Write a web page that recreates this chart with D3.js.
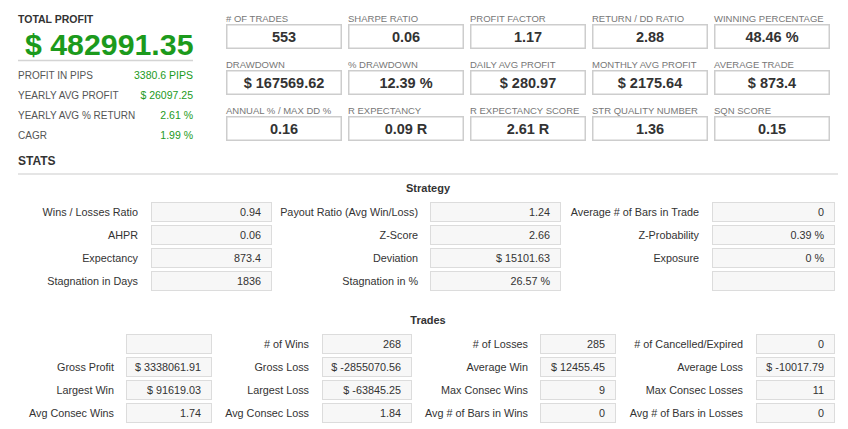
<!DOCTYPE html>
<html><head><meta charset="utf-8">
<script src="https://cdn.jsdelivr.net/npm/d3@7"></script>
<style>
html,body{margin:0;padding:0;background:#fff;}
svg{display:block;font-family:"Liberation Sans",Arial,sans-serif;}
</style></head>
<body>
<script>
// ---------- DATA ----------
const totalProfitLabel = "TOTAL PROFIT";
const totalProfitValue = "$ 482991.35";
const summaryLabels = ["PROFIT IN PIPS","YEARLY AVG PROFIT","YEARLY AVG % RETURN","CAGR"];
const summaryValues = ["3380.6 PIPS","$ 26097.25","2.61 %","1.99 %"];

const topLabels = ["# OF TRADES","SHARPE RATIO","PROFIT FACTOR","RETURN / DD RATIO","WINNING PERCENTAGE",
  "DRAWDOWN","% DRAWDOWN","DAILY AVG PROFIT","MONTHLY AVG PROFIT","AVERAGE TRADE",
  "ANNUAL % / MAX DD %","R EXPECTANCY","R EXPECTANCY SCORE","STR QUALITY NUMBER","SQN SCORE"];
const topValues = ["553","0.06","1.17","2.88","48.46 %",
  "$ 167569.62","12.39 %","$ 280.97","$ 2175.64","$ 873.4",
  "0.16","0.09 R","2.61 R","1.36","0.15"];

const sectionTitle = "STATS";
const strategyTitle = "Strategy";
const strategyLabels = ["Wins / Losses Ratio","Payout Ratio (Avg Win/Loss)","Average # of Bars in Trade",
  "AHPR","Z-Score","Z-Probability",
  "Expectancy","Deviation","Exposure",
  "Stagnation in Days","Stagnation in %",""];
const strategyValues = ["0.94","1.24","0",
  "0.06","2.66","0.39 %",
  "873.4","$ 15101.63","0 %",
  "1836","26.57 %",""];

const tradesTitle = "Trades";
const tradesLabels = ["","# of Wins","# of Losses","# of Cancelled/Expired",
  "Gross Profit","Gross Loss","Average Win","Average Loss",
  "Largest Win","Largest Loss","Max Consec Wins","Max Consec Losses",
  "Avg Consec Wins","Avg Consec Loss","Avg # of Bars in Wins","Avg # of Bars in Losses"];
const tradesValues = ["","268","285","0",
  "$ 3338061.91","$ -2855070.56","$ 12455.45","$ -10017.79",
  "$ 91619.03","$ -63845.25","9","11",
  "1.74","1.84","0","0"];

// ---------- DRAW ----------
const W = 848, H = 429;
const green = "#1c9a1c";
const svg = d3.select("body").append("svg").attr("width", W).attr("height", H);
svg.append("rect").attr("width", W).attr("height", H).attr("fill", "#fff");

// Left summary panel
svg.append("text").attr("x", 18).attr("y", 23).attr("font-size", 10.5).attr("font-weight", "bold")
  .attr("fill", "#333").text(totalProfitLabel);
svg.append("text").attr("x", 25).attr("y", 55).attr("font-size", 30.3).attr("font-weight", "bold")
  .attr("fill", green).text(totalProfitValue);
svg.append("line").attr("x1", 18).attr("x2", 193).attr("y1", 60.5).attr("y2", 60.5)
  .attr("stroke", "#d4d4d4").attr("stroke-width", 1.5);
const sumY = d3.scaleLinear().domain([0, 1]).range([79, 99]);
const sumG = svg.append("g").selectAll("g").data(summaryLabels).join("g");
sumG.append("text").attr("x", 18).attr("y", (d, i) => sumY(i)).attr("font-size", 10)
  .attr("fill", "#555").text(d => d);
sumG.append("text").attr("x", 193).attr("y", (d, i) => sumY(i)).attr("font-size", 10.5)
  .attr("text-anchor", "end").attr("fill", green).text((d, i) => summaryValues[i]);

// Top metric boxes
const topX = d3.scaleLinear().domain([0, 1]).range([226, 348]);
const topY = d3.scaleLinear().domain([0, 1]).range([24, 70]);
const boxW = 116, boxH = 25;
const topG = svg.append("g").selectAll("g").data(topLabels).join("g")
  .attr("transform", (d, i) => `translate(${topX(i % 5)},${topY(Math.floor(i / 5))})`);
topG.append("text").attr("x", 0).attr("y", -2).attr("font-size", 9.5).attr("fill", "#777").text(d => d);
topG.append("rect").attr("x", 0.75).attr("y", 0.75).attr("width", boxW - 1.5).attr("height", boxH - 1.5)
  .attr("fill", "#fff").attr("stroke", "#cdcdcd").attr("stroke-width", 1.5);
topG.append("text").attr("x", boxW / 2).attr("y", 18).attr("text-anchor", "middle")
  .attr("font-size", 14.5).attr("font-weight", "bold").attr("fill", "#333")
  .text((d, i) => topValues[i]);

// STATS header
svg.append("text").attr("x", 18).attr("y", 165).attr("font-size", 12).attr("font-weight", "bold")
  .attr("fill", "#333").text(sectionTitle);
svg.append("line").attr("x1", 18).attr("x2", 838).attr("y1", 174).attr("y2", 174)
  .attr("stroke", "#ddd").attr("stroke-width", 1.5);

// Generic table drawer
function drawTable(labels, values, cols, rowScale) {
  const n = cols.length;
  const g = svg.append("g").selectAll("g").data(labels).join("g");
  g.append("text")
    .attr("x", (d, i) => cols[i % n].label)
    .attr("y", (d, i) => rowScale(Math.floor(i / n)) + 14)
    .attr("text-anchor", "end").attr("font-size", 10.8).attr("fill", "#333").text(d => d);
  g.append("rect")
    .attr("x", (d, i) => cols[i % n].x0 + 0.5)
    .attr("y", (d, i) => rowScale(Math.floor(i / n)) + 0.5)
    .attr("width", (d, i) => cols[i % n].x1 - cols[i % n].x0 - 1)
    .attr("height", 19)
    .attr("fill", "#f7f7f7").attr("stroke", "#dcdcdc").attr("stroke-width", 1);
  g.append("text")
    .attr("x", (d, i) => cols[i % n].x1 - 11)
    .attr("y", (d, i) => rowScale(Math.floor(i / n)) + 14)
    .attr("text-anchor", "end").attr("font-size", 10.8).attr("fill", "#333")
    .text((d, i) => values[i]);
}

// Strategy
svg.append("text").attr("x", 428).attr("y", 192).attr("text-anchor", "middle").attr("font-size", 11)
  .attr("font-weight", "bold").attr("fill", "#333").text(strategyTitle);
drawTable(strategyLabels, strategyValues,
  [{label: 138, x0: 151, x1: 272}, {label: 418, x0: 430, x1: 561}, {label: 699, x0: 712, x1: 835}],
  d3.scaleLinear().domain([0, 1]).range([202, 225]));

// Trades
svg.append("text").attr("x", 428).attr("y", 324).attr("text-anchor", "middle").attr("font-size", 11)
  .attr("font-weight", "bold").attr("fill", "#333").text(tradesTitle);
drawTable(tradesLabels, tradesValues,
  [{label: 114, x0: 126, x1: 212}, {label: 309, x0: 322, x1: 412}, {label: 528, x0: 540, x1: 616}, {label: 743, x0: 756, x1: 835}],
  d3.scaleLinear().domain([0, 1]).range([334, 357]));
</script>
</body></html>
